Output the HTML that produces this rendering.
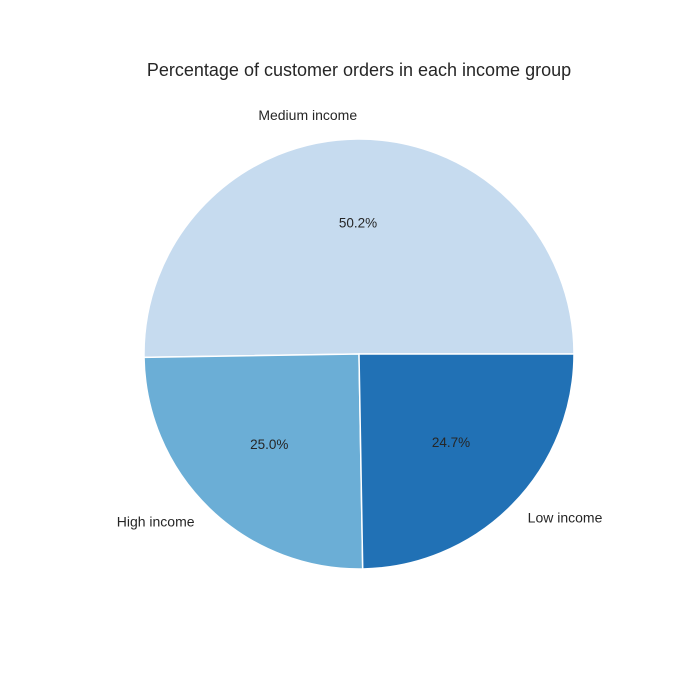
<!DOCTYPE html>
<html><head><meta charset="utf-8"><style>
html,body{margin:0;padding:0;background:#fff;}
svg{display:block;font-family:"Liberation Sans","DejaVu Sans",sans-serif;}
</style></head><body>
<svg id="chart" width="700" height="700" viewBox="0 0 700 700">
<rect width="700" height="700" fill="#fff"/>
<text x="359" y="76" text-anchor="middle" font-size="18" fill="#262626">Percentage of customer orders in each income group</text>
<g id="slices"></g>
</svg>
<script>
const categories = ["Medium income", "High income", "Low income"];
const values = [50.2, 25.0, 24.7];
const pctLabels = ["50.2%", "25.0%", "24.7%"];
const colors = ["#c6dbef", "#6baed6", "#2171b5"];

const cx = 359, cy = 354, r = 215;
const ns = "http://www.w3.org/2000/svg";
const g = document.getElementById("slices");
const total = values.reduce((a, b) => a + b, 0);
function pt(deg, rad) {
  const a = deg * Math.PI / 180;
  return [cx + rad * Math.cos(a), cy - rad * Math.sin(a)];
}
let start = 0;
values.forEach((v, i) => {
  const sweep = v / total * 360;
  const end = start + sweep;
  const p1 = pt(start, r), p2 = pt(end, r);
  const large = sweep > 180 ? 1 : 0;
  const path = document.createElementNS(ns, "path");
  path.setAttribute("d", `M${cx},${cy} L${p1[0]},${p1[1]} A${r},${r} 0 ${large} 0 ${p2[0]},${p2[1]} Z`);
  path.setAttribute("fill", colors[i]);
  path.setAttribute("stroke", "#fff");
  path.setAttribute("stroke-width", "1.5");
  
  
  g.appendChild(path);

  const mid = start + sweep / 2;
  const lp = pt(mid, r * 1.1);
  const cosm = Math.cos(mid * Math.PI / 180);
  const lab = document.createElementNS(ns, "text");
  lab.setAttribute("x", lp[0]);
  lab.setAttribute("y", lp[1] + 2.5);
  lab.setAttribute("text-anchor", cosm > 0 ? "start" : "end");
  lab.setAttribute("font-size", "14");
  lab.setAttribute("fill", "#262626");
  lab.textContent = categories[i];
  
  
  g.appendChild(lab);

  const pp = pt(mid, r * 0.6);
  const pl = document.createElementNS(ns, "text");
  pl.setAttribute("x", pp[0]);
  pl.setAttribute("y", pp[1] + 2.5);
  pl.setAttribute("text-anchor", "middle");
  pl.setAttribute("font-size", "13.5");
  pl.setAttribute("fill", "#262626");
  pl.textContent = pctLabels[i];
  
  
  g.appendChild(pl);
  start = end;
});
</script>
</body></html>
